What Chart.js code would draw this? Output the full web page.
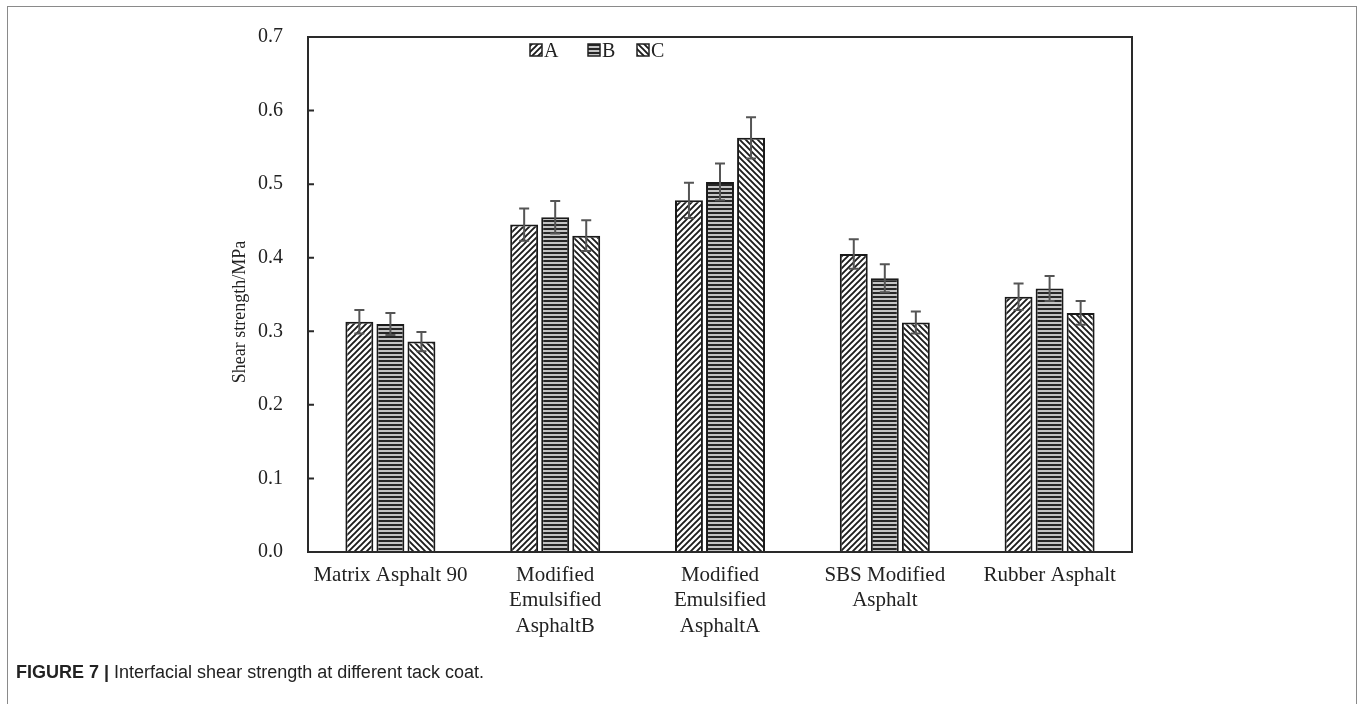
<!DOCTYPE html>
<html><head><meta charset="utf-8">
<script src="https://cdn.jsdelivr.net/npm/chart.js@4.4.0/dist/chart.umd.min.js"></script>
<style>
html,body{margin:0;padding:0;background:#fff;width:1360px;height:704px;overflow:hidden;}
#frame{position:absolute;left:7px;top:6px;width:1350px;height:740px;border:1.5px solid #8a8a8a;box-sizing:border-box;}
#wrap{position:absolute;left:0;top:0;width:1360px;height:704px;}
#caption{position:absolute;left:16px;top:662px;font-family:"Liberation Sans Narrow","Liberation Sans",Arial,sans-serif;font-size:18px;color:#222;white-space:nowrap;}
</style></head>
<body>
<div id="frame"></div>
<div id="wrap"><canvas id="c" width="1360" height="704"></canvas></div>
<div id="caption"><b>FIGURE 7 |</b> Interfacial shear strength at different tack coat.</div>
<script>
const categories = ["Matrix Asphalt 90", ["Modified","Emulsified","AsphaltB"], ["Modified","Emulsified","AsphaltA"], ["SBS Modified","Asphalt"], "Rubber Asphalt"];
const seriesNames = ["A","B","C"];
const valuesA = [0.313, 0.445, 0.478, 0.405, 0.347];
const valuesB = [0.310, 0.455, 0.503, 0.372, 0.358];
const valuesC = [0.286, 0.430, 0.563, 0.312, 0.325];
const errorsA = [0.016, 0.022, 0.024, 0.020, 0.018];
const errorsB = [0.015, 0.022, 0.025, 0.019, 0.017];
const errorsC = [0.013, 0.021, 0.028, 0.015, 0.016];
const yTicks = [0.0, 0.1, 0.2, 0.3, 0.4, 0.5, 0.6, 0.7];
const yTitle = "Shear strength/MPa";

const errors = [errorsA, errorsB, errorsC];

function hatch(type){
  const s = type === '-' ? 4 : 6;
  const c = document.createElement('canvas'); c.width = s; c.height = s;
  const g = c.getContext('2d');
  if (type === '-') {
    g.fillStyle = '#c4c4c4'; g.fillRect(0,0,s,s);
    g.fillStyle = '#262626'; g.fillRect(0,0,s,2);
    return g.createPattern(c,'repeat');
  }
  g.fillStyle = '#fff'; g.fillRect(0,0,s,s);
  g.strokeStyle = '#1c1c1c'; g.lineWidth = 1.9;
  g.beginPath();
  if (type === '/') {
    g.moveTo(0,s); g.lineTo(s,0);
    g.moveTo(-2,2); g.lineTo(2,-2);
    g.moveTo(s-2,s+2); g.lineTo(s+2,s-2);
  } else {
    g.moveTo(0,0); g.lineTo(s,s);
    g.moveTo(-2,s-2); g.lineTo(2,s+2);
    g.moveTo(s-2,-2); g.lineTo(s+2,2);
  }
  g.stroke();
  return g.createPattern(c,'repeat');
}
const patterns = [hatch('/'), hatch('-'), hatch('\\')];
const seriesValues = [valuesA, valuesB, valuesC];

const serif = '"Liberation Serif","Times New Roman",serif';

const extras = {
  id: 'extras',
  afterDatasetsDraw(chart){
    const ctx = chart.ctx, y = chart.scales.y;
    ctx.save();
    ctx.strokeStyle = '#555'; ctx.lineWidth = 2;
    chart.data.datasets.forEach((ds,i)=>{
      chart.getDatasetMeta(i).data.forEach((bar,j)=>{
        const v = ds.data[j], e = errors[i][j];
        const yt = y.getPixelForValue(v+e), yb = y.getPixelForValue(v-e);
        ctx.beginPath();
        ctx.moveTo(bar.x, yt); ctx.lineTo(bar.x, yb);
        ctx.moveTo(bar.x-5, yt); ctx.lineTo(bar.x+5, yt);
        ctx.moveTo(bar.x-5, yb); ctx.lineTo(bar.x+5, yb);
        ctx.stroke();
      });
    });
    ctx.restore();
  },
  afterDraw(chart){
    const ctx = chart.ctx, a = chart.chartArea, y = chart.scales.y;
    ctx.save();
    ctx.strokeStyle = '#2a2a2a'; ctx.lineWidth = 2;
    ctx.strokeRect(a.left, a.top, a.right-a.left, a.bottom-a.top);
    ctx.beginPath();
    yTicks.forEach(t=>{ const py = y.getPixelForValue(t); ctx.moveTo(a.left, py); ctx.lineTo(a.left+6, py); });
    ctx.stroke();
    // y-axis title
    ctx.save();
    ctx.translate(240, 312); ctx.rotate(-Math.PI/2);
    ctx.font = '18px ' + serif; ctx.fillStyle = '#222';
    ctx.textAlign = 'center'; ctx.textBaseline = 'middle';
    ctx.fillText(yTitle, 0, 0);
    ctx.restore();
    // legend
    const lx = [530, 588, 637];
    ctx.font = '20px ' + serif; ctx.textBaseline = 'alphabetic';
    chart.data.datasets.forEach((ds,i)=>{
      ctx.fillStyle = ds.backgroundColor;
      ctx.fillRect(lx[i], 44, 12, 12);
      ctx.lineWidth = 1.5; ctx.strokeStyle = '#222';
      ctx.strokeRect(lx[i], 44, 12, 12);
      ctx.fillStyle = '#222';
      ctx.fillText(ds.label, lx[i]+14, 57);
    });
    ctx.restore();
  }
};

new Chart(document.getElementById('c'), {
  type: 'bar',
  data: {
    labels: categories,
    datasets: seriesNames.map((n,i)=>({
      label: n,
      data: seriesValues[i],
      backgroundColor: patterns[i],
      borderColor: '#1a1a1a',
      borderWidth: 2,
      categoryPercentage: 0.565,
      barPercentage: 0.9
    }))
  },
  options: {
    responsive: false,
    animation: false,
    layout: { padding: { left: 220, top: 35, right: 228, bottom: 0 } },
    plugins: { legend: { display: false }, tooltip: { enabled: false } },
    scales: {
      x: {
        grid: { display: false, drawTicks: false },
        border: { display: false },
        ticks: { color: '#222', font: { family: serif, size: 21, lineHeight: 1.2 }, padding: 11, maxRotation: 0, autoSkip: false },
        afterFit(s){ s.height = 152; }
      },
      y: {
        min: 0, max: 0.7,
        grid: { display: false, drawTicks: false },
        border: { display: false },
        afterBuildTicks(s){ s.ticks = yTicks.map(v=>({value:v})); },
        ticks: { color: '#222', font: { family: serif, size: 20 }, padding: 25, callback: v => Number(v).toFixed(1) },
        title: { display: false },
        afterFit(s){ s.width = 88; }
      }
    }
  },
  plugins: [extras]
});
</script>
</body></html>
